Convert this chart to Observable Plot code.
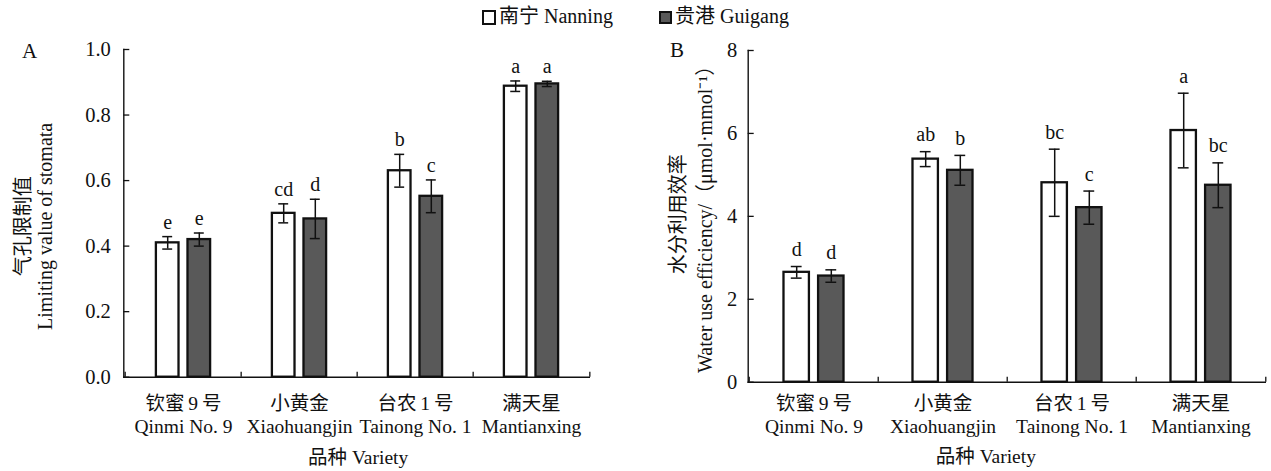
<!DOCTYPE html>
<html><head><meta charset="utf-8">
<script src="https://cdn.jsdelivr.net/npm/d3@7"></script>
<script src="https://cdn.jsdelivr.net/npm/@observablehq/plot@0.6"></script>
<style>
html,body{margin:0;padding:0;background:#fff;}
#root{position:relative;width:1271px;height:471px;overflow:hidden;font-family:"Liberation Serif","Noto Sans CJK SC",serif;color:#111;}
#a{position:absolute;left:0;top:0;}
#b{position:absolute;left:640px;top:0;}
.sq{position:absolute;box-sizing:border-box;border:2.2px solid #111;}
.lt{position:absolute;font-size:20px;line-height:20px;white-space:nowrap;}
</style></head>
<body>
<div id="root">
  <div id="a"></div>
  <div id="b"></div>
  <div id="legend"></div>
</div>
<script>
// ---------- data ----------
const varietiesZh = ["钦蜜\u20099\u2009号", "小黄金", "台农\u20091\u2009号", "满天星"];
const varietiesEn = ["Qinmi No. 9", "Xiaohuangjin", "Tainong No. 1", "Mantianxing"];
const siteNames = ["南宁 Nanning", "贵港 Guigang"];

// Panel A: limiting value of stomata
const lsNanning = [0.41, 0.50, 0.63, 0.888];
const lsNanningErr = [0.019, 0.029, 0.05, 0.016];
const lsNanningLetters = ["e", "cd", "b", "a"];
const lsGuigang = [0.42, 0.483, 0.552, 0.895];
const lsGuigangErr = [0.02, 0.06, 0.05, 0.008];
const lsGuigangLetters = ["e", "d", "c", "a"];
const yTicksA = [0, 0.2, 0.4, 0.6, 0.8, 1.0];

// Panel B: water use efficiency
const wueNanning = [2.65, 5.38, 4.81, 6.07];
const wueNanningErr = [0.14, 0.18, 0.81, 0.90];
const wueNanningLetters = ["d", "ab", "bc", "a"];
const wueGuigang = [2.56, 5.11, 4.21, 4.75];
const wueGuigangErr = [0.15, 0.36, 0.40, 0.54];
const wueGuigangLetters = ["d", "b", "c", "bc"];
const yTicksB = [0, 2, 4, 6, 8];

const FONT = '"Liberation Serif","Noto Sans CJK SC",serif';
const INK = "#111";
const DARK = "#595959";

function rows(vals, errs, letters, site) {
  return varietiesEn.map((v, i) => ({variety: v, site, value: vals[i], lo: vals[i] - errs[i], hi: vals[i] + errs[i], letter: letters[i]}));
}

function panel(cfg) {
  const plotW = cfg.width - cfg.marginLeft - cfg.marginRight;
  const plotH = cfg.height - cfg.marginTop - cfg.marginBottom;
  const bw = plotW / varietiesEn.length;
  const series = [
    {data: rows(cfg.n, cfg.nErr, cfg.nLet, siteNames[0]), fill: "white", off: -cfg.off},
    {data: rows(cfg.g, cfg.gErr, cfg.gLet, siteNames[1]), fill: DARK, off: cfg.off}
  ];
  const marks = [];
  for (const s of series) {
    const c = bw / 2 + s.off;
    marks.push(Plot.barY(s.data, {x: "variety", y: "value", fill: s.fill, stroke: INK, strokeWidth: 2.3,
      insetLeft: c - cfg.barW / 2, insetRight: bw - c - cfg.barW / 2}));
  }
  for (const s of series) {
    const c = bw / 2 + s.off;
    marks.push(Plot.ruleX(s.data, {x: "variety", y1: "lo", y2: "hi", dx: s.off, stroke: INK, strokeWidth: 1.5}));
    marks.push(Plot.tickY(s.data, {x: "variety", y: "hi", insetLeft: c - cfg.cap, insetRight: bw - c - cfg.cap, stroke: INK, strokeWidth: 1.5}));
    marks.push(Plot.tickY(s.data, {x: "variety", y: "lo", insetLeft: c - cfg.cap, insetRight: bw - c - cfg.cap, stroke: INK, strokeWidth: 1.5}));
    marks.push(Plot.text(s.data, {x: "variety", y: "hi", text: "letter", dx: s.off, dy: cfg.letterDy, lineAnchor: "bottom", fontSize: 20, fill: INK}));
  }
  // axes
  marks.push(Plot.frame({anchor: "left", stroke: INK, strokeWidth: 1.4}));
  marks.push(Plot.ruleY([0], {stroke: INK, strokeWidth: 1.4}));
  marks.push(Plot.tickY(cfg.yTicks, {y: d => d, insetRight: plotW - 6, stroke: INK, strokeWidth: 1.3}));
  marks.push(Plot.tickX(varietiesEn, {x: d => d, dx: -bw / 2, insetTop: plotH - 5, stroke: INK, strokeWidth: 1.3}));
  marks.push(Plot.tickX(varietiesEn.slice(-1), {x: d => d, dx: bw / 2, insetTop: plotH - 5, stroke: INK, strokeWidth: 1.3}));
  marks.push(Plot.axisY({ticks: cfg.yTicks, tickSize: 0, tickPadding: cfg.yPad, tickFormat: cfg.yFormat, label: null, fontSize: 20.5, fill: INK}));
  marks.push(Plot.axisX({tickSize: 0, tickPadding: cfg.xPad, label: null, fontSize: 19.5, lineHeight: 1.2, fill: INK,
    tickFormat: d => varietiesZh[varietiesEn.indexOf(d)] + "\n" + d}));
  // titles
  marks.push(Plot.text(["品种 Variety"], {text: d => d, frameAnchor: "bottom", dx: cfg.xTitleDx, dy: cfg.xTitleDy, lineAnchor: "bottom", textAnchor: "middle", fontSize: 19.5, fill: INK}));
  marks.push(Plot.text([cfg.yTitleZh], {text: d => d, frameAnchor: "left", rotate: -90, dx: cfg.yZhDx, dy: cfg.yTitleDy, lineAnchor: "middle", textAnchor: "middle", fontSize: 20, fill: INK}));
  marks.push(Plot.text([cfg.yTitleEn], {text: d => d, frameAnchor: "left", rotate: -90, dx: cfg.yEnDx, dy: cfg.yTitleDy, lineAnchor: "middle", textAnchor: "middle", fontSize: 20, fill: INK}));
  marks.push(Plot.text([cfg.tag], {text: d => d, frameAnchor: "top-left", dx: cfg.tagDx, dy: cfg.tagDy, lineAnchor: "middle", textAnchor: "middle", fontSize: 21, fill: INK}));

  return Plot.plot({
    width: cfg.width, height: cfg.height,
    marginLeft: cfg.marginLeft, marginRight: cfg.marginRight, marginTop: cfg.marginTop, marginBottom: cfg.marginBottom,
    style: {fontFamily: FONT, fontSize: "19px", color: INK, background: "transparent", overflow: "visible"},
    x: {domain: varietiesEn, padding: 0},
    y: {domain: [0, cfg.yTicks[cfg.yTicks.length - 1]]},
    marks
  });
}

document.getElementById("a").appendChild(panel({
  width: 640, height: 471, marginLeft: 123.3, marginRight: 50, marginTop: 49, marginBottom: 94.3,
  n: lsNanning, nErr: lsNanningErr, nLet: lsNanningLetters,
  g: lsGuigang, gErr: lsGuigangErr, gLet: lsGuigangLetters,
  yTicks: yTicksA, yFormat: d3.format(".1f"), off: 15.8, barW: 23.3, cap: 5.3, letterDy: -8,
  yPad: 13, xPad: 16,
  xTitleDx: 1, xTitleDy: 87,
  yTitleZh: "气孔限制值", yTitleEn: "Limiting value of stomata", yZhDx: -100.3, yEnDx: -78.3, yTitleDy: 13,
  tag: "A", tagDx: -94.3, tagDy: 1.5
}));

document.getElementById("b").appendChild(panel({
  width: 631, height: 471, marginLeft: 107.7, marginRight: 5, marginTop: 50, marginBottom: 89.3,
  n: wueNanning, nErr: wueNanningErr, nLet: wueNanningLetters,
  g: wueGuigang, gErr: wueGuigangErr, gLet: wueGuigangLetters,
  yTicks: yTicksB, yFormat: d3.format("d"), off: 17.3, barW: 26, cap: 5.7, letterDy: -10.5,
  yPad: 11, xPad: 11,
  xTitleDx: -21.5, xTitleDy: 81,
  yTitleZh: "水分利用效率", yTitleEn: "Water use efficiency/（μmol·mmol⁻¹）", yZhDx: -69.7, yEnDx: -42.7, yTitleDy: -2,
  tag: "B", tagDx: -71.2, tagDy: 0
}));

// legend
const legend = document.getElementById("legend");
const legendItems = [
  {label: siteNames[0], fill: "white", sqLeft: 482, sqSize: 14.4, textLeft: 499},
  {label: siteNames[1], fill: DARK, sqLeft: 659, sqSize: 13, textLeft: 675}
];
for (const it of legendItems) {
  const sq = document.createElement("span");
  sq.className = "sq";
  sq.style.left = it.sqLeft + "px";
  sq.style.top = (17.5 - it.sqSize / 2) + "px";
  sq.style.width = it.sqSize + "px";
  sq.style.height = it.sqSize + "px";
  sq.style.background = it.fill;
  legend.appendChild(sq);
  const t = document.createElement("span");
  t.className = "lt";
  t.style.left = it.textLeft + "px";
  t.style.top = "6px";
  t.textContent = it.label;
  legend.appendChild(t);
}
</script>
</body></html>
